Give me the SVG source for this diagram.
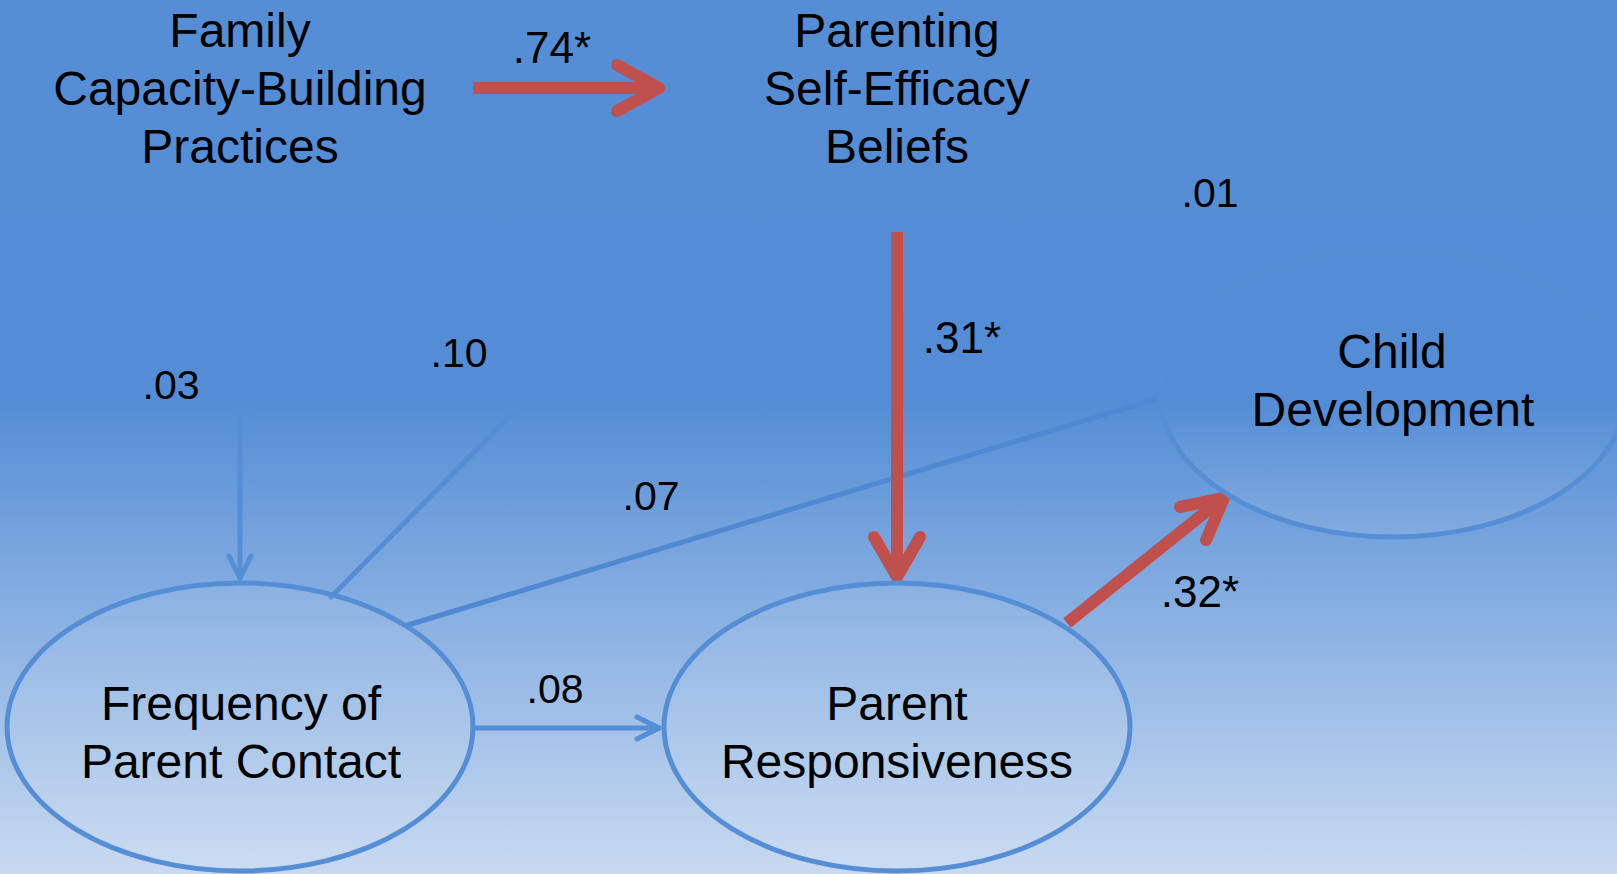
<svg xmlns="http://www.w3.org/2000/svg" width="1617" height="874" viewBox="0 0 1617 874">
  <defs>
    <linearGradient id="bg" x1="0" y1="0" x2="0" y2="1">
      <stop offset="0" stop-color="#558ed5"/>
      <stop offset="0.46" stop-color="#548dd5"/>
      <stop offset="1" stop-color="#c8daf1"/>
    </linearGradient>
    <linearGradient id="childFill" x1="0" y1="0" x2="0" y2="1">
      <stop offset="0" stop-color="#ffffff" stop-opacity="0"/>
      <stop offset="0.55" stop-color="#ffffff" stop-opacity="0"/>
      <stop offset="1" stop-color="#ffffff" stop-opacity="0.1"/>
    </linearGradient>
    <marker id="blueArrow" viewBox="0 0 30 30" refX="26" refY="15" markerWidth="30" markerHeight="30" markerUnits="userSpaceOnUse" orient="auto">
      <path d="M4,4 L26,15 L4,26" fill="none" stroke="#558ed5" stroke-width="5" stroke-linecap="round" stroke-linejoin="round"/>
    </marker>
  </defs>
  <style>
    text { font-family: "Liberation Sans", Arial, sans-serif; fill: #000; text-anchor: middle; }
    .node { font-size: 48px; }
    .num { font-size: 44px; }
    .ell { fill: #ffffff; fill-opacity: 0.08; stroke: #558ed5; stroke-width: 5; }
    .blue { stroke: #558ed5; stroke-width: 5; fill: none; stroke-linecap: round; }
    .red { stroke: #c0504d; stroke-width: 12; fill: none; }
    .redhead { stroke: #c0504d; stroke-width: 12; fill: none; stroke-linecap: round; stroke-linejoin: round; }
  </style>
  <rect x="0" y="0" width="1617" height="874" fill="url(#bg)"/>

  <g id="connectors">
    <line class="blue" x1="240" y1="398" x2="240" y2="578" marker-end="url(#blueArrow)"/>
    <line class="blue" x1="522" y1="404" x2="331" y2="597"/>
    <line class="blue" x1="408" y1="625" x2="1156" y2="399" stroke="#5088d2" style="stroke:#5088d2"/>
    <line class="blue" x1="473" y1="728" x2="659" y2="728" marker-end="url(#blueArrow)"/>
    <!-- .74* -->
    <line class="red" x1="473" y1="88" x2="655" y2="88"/>
    <path class="redhead" d="M617,65 L659,88 L617,111"/>
    <!-- .31* -->
    <line class="red" x1="897" y1="232" x2="897" y2="572"/>
    <path class="redhead" d="M874,537 L897,577 L920,537"/>
    <!-- .32* -->
    <line class="red" x1="1067" y1="623" x2="1218" y2="502"/>
    <path class="redhead" d="M1180,507 L1224,498 L1206,540"/>
  </g>

  <g id="family">
    <text class="node" x="240" y="47">Family</text>
    <text class="node" x="240" y="105">Capacity-Building</text>
    <text class="node" x="240" y="163">Practices</text>
  </g>
  <g id="parenting">
    <text class="node" x="897" y="47">Parenting</text>
    <text class="node" x="897" y="105">Self-Efficacy</text>
    <text class="node" x="897" y="163">Beliefs</text>
  </g>
  <g id="child">
    <ellipse cx="1393" cy="393" rx="233" ry="144" fill="url(#childFill)" stroke="#558ed5" stroke-width="5"/>
    <text class="node" x="1392" y="368">Child</text>
    <text class="node" x="1393" y="426">Development</text>
  </g>
  <g id="frequency">
    <ellipse class="ell" cx="240" cy="727" rx="233" ry="144"/>
    <text class="node" x="241" y="720">Frequency of</text>
    <text class="node" x="241" y="778">Parent Contact</text>
  </g>
  <g id="responsiveness">
    <ellipse class="ell" cx="897" cy="727" rx="233" ry="144"/>
    <text class="node" x="897" y="720">Parent</text>
    <text class="node" x="897" y="778">Responsiveness</text>
  </g>

  <g id="labels">
    <text class="num" x="552" y="63">.74*</text>
    <text class="num" x="1210" y="207" style="font-size:41px">.01</text>
    <text class="num" x="962" y="353">.31*</text>
    <text class="num" x="459" y="367" style="font-size:41px">.10</text>
    <text class="num" x="171" y="399" style="font-size:41px">.03</text>
    <text class="num" x="651" y="510" style="font-size:41px">.07</text>
    <text class="num" x="555" y="703" style="font-size:41px">.08</text>
    <text class="num" x="1200" y="607">.32*</text>
  </g>
</svg>
